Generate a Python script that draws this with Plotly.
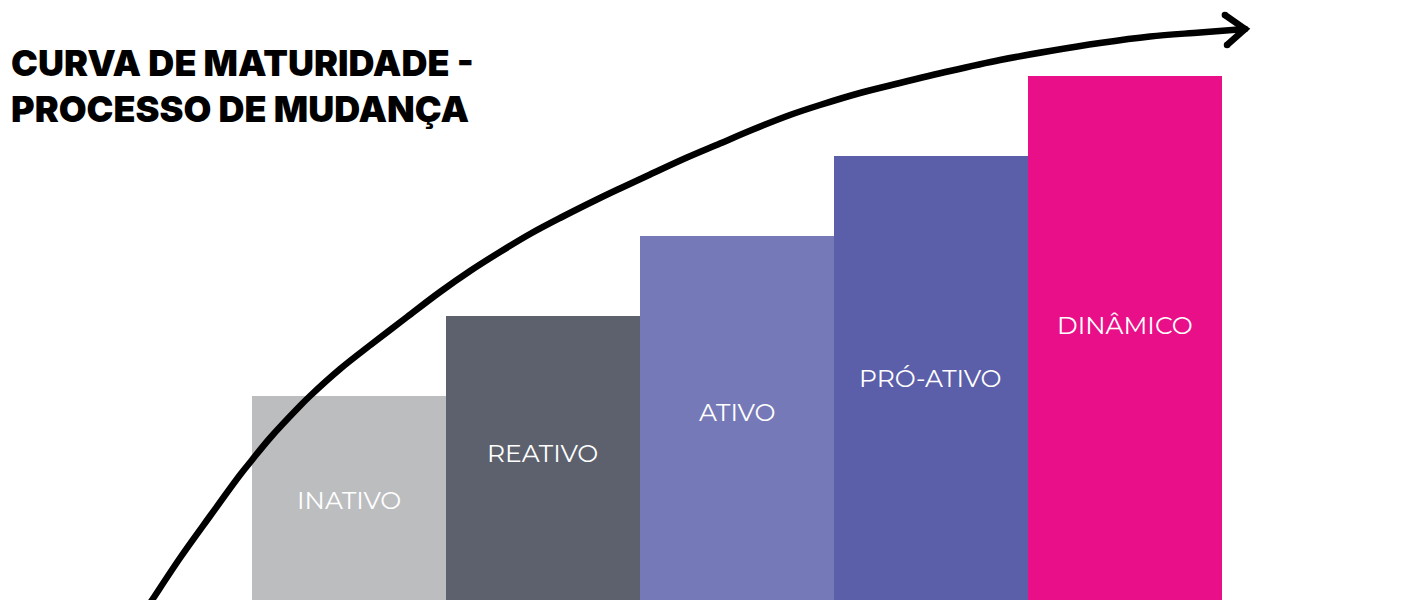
import plotly.graph_objects as go

# ---- data ----
stages = ["INATIVO", "REATIVO", "ATIVO", "PRÓ-ATIVO", "DINÂMICO"]
stage_pos = [1, 2, 3, 4, 5]
levels = [2.55, 3.55, 4.55, 5.55, 6.55]
label_y = [1.25, 1.84, 2.35, 2.775, 3.44]
colors = ["#BCBDBF", "#5C616D", "#7679B7", "#5B5EA8", "#E90F89"]

curve_x = [-0.046, -0.015, 0.129, 0.284, 0.438, 0.5, 0.593, 0.747, 0.799,
           0.954, 1.124, 1.299, 1.469, 1.624, 1.778, 1.933, 2.088, 2.278,
           2.397, 2.552, 2.742, 2.912, 3.082, 3.273, 3.428, 3.634, 3.840,
           4.098, 4.356, 4.613, 4.871, 5.129, 5.387, 5.619]
curve_y = [-0.1125, 0.0, 0.525, 1.05, 1.5625, 1.75, 2.025, 2.425, 2.55,
           2.8875, 3.2125, 3.5375, 3.85, 4.1125, 4.35, 4.575, 4.775, 5.006,
           5.144, 5.319, 5.531, 5.706, 5.881, 6.0625, 6.1875, 6.3375, 6.4625,
           6.6125, 6.75, 6.8625, 6.9625, 7.044, 7.094, 7.1375]
head_x = [5.515, 5.619, 5.526]
head_y = [7.3125, 7.1375, 6.9375]

title_lines = ["CURVA DE MATURIDADE -", "PROCESSO DE MUDANÇA"]

fig = go.Figure()
fig.add_trace(go.Bar(
    x=stage_pos, y=levels, width=1.0,
    marker=dict(color=colors, line=dict(width=0)),
    hoverinfo="skip", showlegend=False,
))
fig.add_trace(go.Scatter(
    x=curve_x, y=curve_y, mode="lines",
    line=dict(color="black", width=6.5, shape="spline", smoothing=1.0),
    hoverinfo="skip", showlegend=False,
))
fig.add_trace(go.Scatter(
    x=head_x, y=head_y, mode="lines+markers",
    line=dict(color="black", width=6.5),
    marker=dict(color="black", size=6.5),
    hoverinfo="skip", showlegend=False,
))

for xi, yi, t in zip(stage_pos, label_y, stages):
    fig.add_annotation(x=xi, y=yi, text=t, showarrow=False,
                       font=dict(family="Montserrat, Open Sans, sans-serif",
                                 size=25, color="white"),
                       xanchor="center", yanchor="middle")

for i, line in enumerate(title_lines):
    fig.add_annotation(xref="paper", yref="paper", x=9 / 1415,
                       y=1 - (63 + 46 * i) / 600,
                       text=line, showarrow=False, xanchor="left", yanchor="middle",
                       font=dict(family="Inter, sans-serif", size=36,
                                 color="black", weight=900))

fig.update_layout(
    width=1415, height=600,
    margin=dict(l=0, r=0, t=0, b=0),
    paper_bgcolor="white", plot_bgcolor="white",
    xaxis=dict(range=[-0.799, 6.495], visible=False, fixedrange=True),
    yaxis=dict(range=[0, 7.5], visible=False, fixedrange=True),
    bargap=0,
)

fig.write_html("out.html", config={"displayModeBar": False},
               post_script="document.body.style.margin='0';document.body.style.overflow='hidden';")
